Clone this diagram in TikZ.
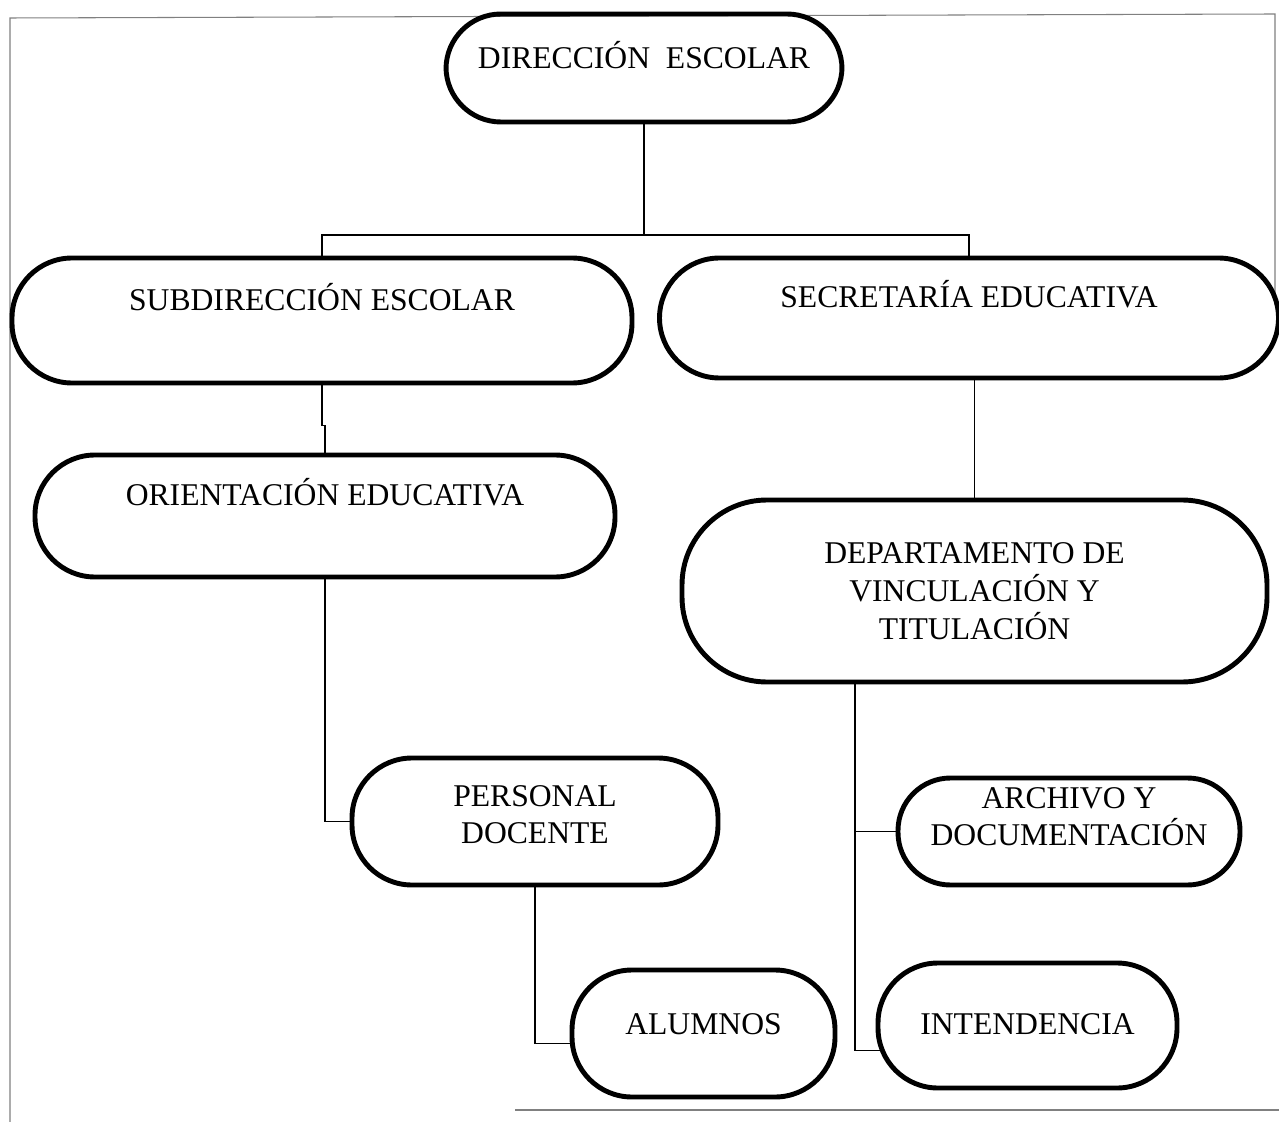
\documentclass[tikz,border=0pt]{standalone}
\usepackage{fontspec}
\setmainfont{Liberation Serif}
\begin{document}
\begin{tikzpicture}[
    unidad/.style={draw, line width=2.8pt, rounded corners=#1, align=center,
      font=\fontsize{18pt}{21.5pt}\selectfont, inner sep=0pt},
    unidad/.default=1.1cm,
    linea/.style={line width=1pt},
    marco/.style={draw=black!50, line width=0.6pt}]
    \useasboundingbox (0,0) rectangle (25.58,-22.44);
    % marco de la hoja
    \draw[marco] (0.2,-22.44) -- (0.2,-0.36) -- (25.5,-0.28) -- (25.5,-6.1);
    \draw[marco] (10.3,-22.2) -- (25.58,-22.2);
    % unidades
    \node[unidad, minimum width=7.92cm, minimum height=2.16cm, text height=0.42cm, text depth=0.4cm] (dir) at (12.88,-1.36) {DIRECCIÓN\ \ ESCOLAR};
    \node[unidad=1.2cm, minimum width=12.4cm, minimum height=2.5cm, text height=0.42cm, text depth=0.8cm] (sub) at (6.44,-6.41) {SUBDIRECCIÓN ESCOLAR};
    \node[unidad=1.2cm, minimum width=12.38cm, minimum height=2.4cm, text height=0.42cm, text depth=0.84cm] (sec) at (19.38,-6.36) {SECRETARÍA EDUCATIVA};
    \node[unidad=1.2cm, minimum width=11.6cm, minimum height=2.44cm, text height=0.42cm, text depth=0.84cm] (ori) at (6.5,-10.32) {ORIENTACIÓN EDUCATIVA};
    \node[unidad=1.7cm, minimum width=11.7cm, minimum height=3.64cm] (dep) at (19.49,-11.82) {DEPARTAMENTO DE\\VINCULACIÓN Y\\TITULACIÓN};
    \node[unidad=1.2cm, minimum width=7.32cm, minimum height=2.54cm] (per) at (10.7,-16.43) {PERSONAL\\DOCENTE\rule[-0.28cm]{0pt}{0pt}};
    \node[unidad=1.05cm, minimum width=6.84cm, minimum height=2.14cm] (arc) at (21.38,-16.63) {ARCHIVO Y\\DOCUMENTACIÓN\rule[-0.6cm]{0pt}{0pt}};
    \node[unidad=1.2cm, minimum width=5.26cm, minimum height=2.54cm, text height=0.42cm, text depth=0.4cm] (alu) at (14.07,-20.67) {ALUMNOS};
    \node[unidad=1.2cm, minimum width=5.98cm, minimum height=2.5cm, text height=0.42cm, text depth=0.05cm] (int) at (20.55,-20.51) {INTENDENCIA};
    % lineas de mando
    \coordinate (bus) at (12.88,-4.7);
    \draw[linea] (dir) -- (bus); \draw[linea] (bus) -| (sub); \draw[linea] (bus) -| (sec);
    \draw[linea] (sub.south) -- ++(0,-0.8) -| (ori.north);
    \draw[linea] (sec.south -| dep.north) -- (dep.north);
    \draw[linea] (ori.south) |- (per.west);
    \draw[linea] (per.south) |- ([shift={(0.02,-0.2)}]alu.west);
    \draw[linea] ([xshift=-2.39cm]dep.south) |- (arc.west);
    \draw[linea] ([xshift=-2.39cm]dep.south) |- ([shift={(0.11,-0.5)}]int.west);
\end{tikzpicture}
\end{document}
